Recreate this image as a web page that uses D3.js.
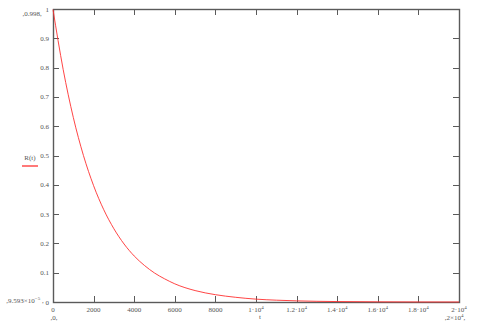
<!DOCTYPE html>
<meta charset="utf-8">
<style>
	body { margin: 0; background: #fff; }
	svg text { font-family: "Liberation Serif", serif; fill: #555; }
</style>
<svg width="484" height="324"></svg>
<script src="https://d3js.org/d3.v7.min.js"></script>
<script>
	// values
	var tValues = [0, 500, 1000, 1500, 2000, 2500, 3000, 3500, 4000, 4500, 5000, 5500, 6000,
		7000, 8000, 9000, 10000, 11000, 12000, 13000, 14000, 16000, 18000, 20000]
	var rValues = [0.998, 0.794, 0.630, 0.500, 0.397, 0.315, 0.250, 0.198, 0.157, 0.125, 0.099, 0.079, 0.062,
		0.039, 0.025, 0.016, 0.0098, 0.0062, 0.0039, 0.0024, 0.0015, 0.0006, 0.0002, 0.0001]
	var xTicks = [0, 2000, 4000, 6000, 8000, 10000, 12000, 14000, 16000, 18000, 20000]
	var xTickLabels = [['0'], ['2000'], ['4000'], ['6000'], ['8000'], ['1·10', '4'], ['1.2·10', '4'],
		['1.4·10', '4'], ['1.6·10', '4'], ['1.8·10', '4'], ['2·10', '4']]
	var yTicks = [0, 0.1, 0.2, 0.3, 0.4, 0.5, 0.6, 0.7, 0.8, 0.9, 1]
	var yTickLabels = ['0', '0.1', '0.2', '0.3', '0.4', '0.5', '0.6', '0.7', '0.8', '0.9', '1']

	var data = tValues.map(function (t, i) { return { t: t, r: rValues[i] } })

	var svg = d3.select('svg'),
		pL = 53, pR = 459, pT = 9, pB = 302

	var x = d3.scaleLinear().domain([0, 20000]).range([pL, pR]),
		y = d3.scaleLinear().domain([0, 1]).range([pB, pT])

	var frame = '#5a5a5a'

	// ticks on all four sides, pointing inward
	var g = svg.append('g').attr('stroke', frame).attr('stroke-width', 1)
	xTicks.forEach(function (d) {
		var px = Math.round(x(d)) + 0.5
		g.append('line').attr('x1', px).attr('x2', px).attr('y1', pB).attr('y2', pB - 6)
		g.append('line').attr('x1', px).attr('x2', px).attr('y1', pT).attr('y2', pT + 6)
	})
	yTicks.forEach(function (d) {
		var py = Math.round(y(d)) + 0.5
		g.append('line').attr('x1', pL).attr('x2', pL + 6).attr('y1', py).attr('y2', py)
		g.append('line').attr('x1', pR).attr('x2', pR - 6).attr('y1', py).attr('y2', py)
	})

	// frame
	svg.append('rect')
		.attr('x', pL + 0.5).attr('y', pT + 0.5)
		.attr('width', pR - pL).attr('height', pB - pT)
		.attr('fill', 'none').attr('stroke', frame).attr('stroke-width', 1.4)

	// tick labels
	xTicks.forEach(function (d, i) {
		var txt = svg.append('text')
			.attr('x', x(d)).attr('y', pB + 10)
			.attr('text-anchor', 'middle')
			.style('font-size', '7px')
		txt.append('tspan').text(xTickLabels[i][0])
		if (xTickLabels[i][1]) {
			txt.append('tspan').attr('dy', -3).style('font-size', '5px').text(xTickLabels[i][1])
		}
	})
	yTicks.forEach(function (d, i) {
		svg.append('text')
			.attr('x', pL - 4).attr('y', y(d) + 2.5)
			.attr('text-anchor', 'end')
			.style('font-size', '7px')
			.text(yTickLabels[i])
	})

	// curve
	var line = d3.line()
		.x(function (d) { return x(d.t) })
		.y(function (d) { return y(d.r) })
		.curve(d3.curveMonotoneX)

	svg.append('path')
		.datum(data)
		.attr('fill', 'none')
		.attr('stroke', '#ff3030')
		.attr('stroke-width', 0.9)
		.attr('d', line)

	// axis names and range markers
	svg.append('text').attr('x', 260).attr('y', 319).attr('text-anchor', 'middle')
		.style('font-size', '7px').text('t')

	svg.append('text').attr('x', 54).attr('y', 320).attr('text-anchor', 'middle')
		.style('font-size', '7px').text(',0,')

	var xr = svg.append('text').attr('x', 455).attr('y', 320).attr('text-anchor', 'middle')
		.style('font-size', '7px')
	xr.append('tspan').text(',2×10')
	xr.append('tspan').attr('dy', -3).style('font-size', '5px').text('4')
	xr.append('tspan').attr('dy', 3).text(',')

	svg.append('text').attr('x', 32).attr('y', 16).attr('text-anchor', 'middle')
		.style('font-size', '7px').text(',0.998,')

	var yr = svg.append('text').attr('x', 25).attr('y', 303).attr('text-anchor', 'middle')
		.style('font-size', '7px')
	yr.append('tspan').text(',9.593×10')
	yr.append('tspan').attr('dy', -3).style('font-size', '5px').text('−5')
	yr.append('tspan').attr('dy', 3).text(' ,')

	// legend
	svg.append('text').attr('x', 30).attr('y', 160).attr('text-anchor', 'middle')
		.style('font-size', '7px').text('R(t)')
	svg.append('line').attr('x1', 22).attr('x2', 38).attr('y1', 166).attr('y2', 166)
		.attr('stroke', '#ff3030').attr('stroke-width', 1.3)
</script>
